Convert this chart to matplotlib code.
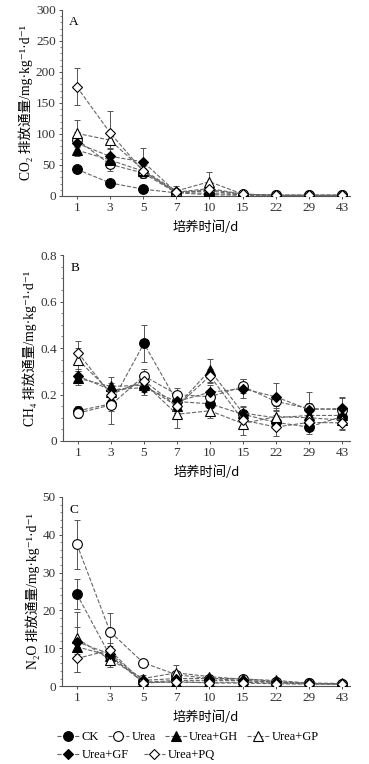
import matplotlib
matplotlib.use("Agg")
import matplotlib.pyplot as plt
import numpy as np
from matplotlib.ticker import MultipleLocator

days = ["1", "3", "5", "7", "10", "15", "22", "29", "43"]
treatments = ["CK", "Urea", "Urea+GH", "Urea+GP", "Urea+GF", "Urea+PQ"]

# Panel A: CO2 flux
co2 = {
    "CK":      [43, 21, 11, 5, 2, 1, 1, 1, 1],
    "Urea":    [91, 51, 37, 5, 10, 3, 1, 1, 1],
    "Urea+GH": [74, 58, 40, 6, 8, 2, 1, 1, 1],
    "Urea+GP": [101, 90, 42, 8, 23, 3, 1, 1, 1],
    "Urea+GF": [85, 64, 55, 6, 4, 2, 1, 1, 1],
    "Urea+PQ": [176, 102, 40, 6, 12, 3, 1, 1, 1],
}
co2_err = {
    "CK":      [5, 5, 4, 2, 2, 1, 0, 0, 0],
    "Urea":    [12, 10, 8, 3, 5, 1, 0, 0, 0],
    "Urea+GH": [10, 10, 8, 3, 3, 1, 0, 0, 0],
    "Urea+GF": [12, 12, 22, 3, 3, 1, 0, 0, 0],
    "Urea+GP": [21, 12, 10, 8, 16, 3, 0, 0, 0],
    "Urea+PQ": [30, 35, 10, 5, 8, 2, 0, 0, 0],
}

# Panel B: CH4 flux
ch4 = {
    "CK":      [0.13, 0.16, 0.42, 0.17, 0.16, 0.115, 0.08, 0.06, 0.105],
    "Urea":    [0.12, 0.155, 0.28, 0.20, 0.19, 0.235, 0.17, 0.14, 0.135],
    "Urea+GH": [0.27, 0.235, 0.24, 0.15, 0.305, 0.12, 0.10, 0.11, 0.11],
    "Urea+GP": [0.35, 0.21, 0.25, 0.115, 0.13, 0.075, 0.105, 0.10, 0.09],
    "Urea+GF": [0.28, 0.22, 0.23, 0.17, 0.21, 0.225, 0.19, 0.135, 0.14],
    "Urea+PQ": [0.38, 0.20, 0.26, 0.15, 0.28, 0.09, 0.06, 0.08, 0.078],
}
ch4_err = {
    "CK":      [0.02, 0.03, 0.08, 0.03, 0.03, 0.03, 0.03, 0.03, 0.03],
    "Urea":    [0.02, 0.08, 0.03, 0.03, 0.03, 0.03, 0.03, 0.07, 0.05],
    "Urea+GH": [0.03, 0.04, 0.03, 0.03, 0.05, 0.03, 0.05, 0.03, 0.03],
    "Urea+GP": [0.05, 0.03, 0.03, 0.06, 0.03, 0.05, 0.03, 0.03, 0.04],
    "Urea+GF": [0.03, 0.03, 0.03, 0.03, 0.03, 0.04, 0.06, 0.03, 0.05],
    "Urea+PQ": [0.05, 0.03, 0.03, 0.03, 0.03, 0.03, 0.04, 0.03, 0.03],
}

# Panel C: N2O flux
n2o = {
    "CK":      [24.3, 8.0, 1.0, 1.5, 1.5, 1.5, 1.0, 0.7, 0.6],
    "Urea":    [37.5, 14.4, 6.2, 3.0, 2.0, 2.0, 1.2, 0.7, 0.6],
    "Urea+GH": [10.4, 8.0, 1.0, 1.0, 1.0, 1.0, 0.8, 0.6, 0.5],
    "Urea+GP": [12.6, 7.0, 2.0, 3.5, 2.5, 1.8, 1.5, 0.8, 0.7],
    "Urea+GF": [11.7, 8.5, 1.5, 2.0, 2.0, 1.5, 1.0, 0.7, 0.6],
    "Urea+PQ": [7.3, 9.5, 0.8, 1.2, 0.8, 0.8, 0.6, 0.5, 0.5],
}
n2o_err = {
    "CK":      [4.0, 1.5, 0.5, 0.5, 0.5, 0.4, 0.3, 0.2, 0.2],
    "Urea":    [6.5, 5.0, 1.0, 1.0, 0.5, 0.5, 0.4, 0.2, 0.2],
    "Urea+GH": [2.0, 2.0, 0.5, 0.5, 0.4, 0.4, 0.3, 0.2, 0.2],
    "Urea+GP": [3.0, 2.0, 0.8, 2.0, 0.5, 0.5, 0.5, 0.2, 0.2],
    "Urea+GF": [8.0, 2.0, 0.5, 0.5, 0.4, 0.4, 0.3, 0.2, 0.2],
    "Urea+PQ": [3.5, 2.0, 0.5, 0.5, 0.4, 0.4, 0.3, 0.2, 0.2],
}

ylabels = ["CO₂ 排放通量/mg·kg⁻¹·d⁻¹", "CH₄ 排放通量/mg·kg⁻¹·d⁻¹",
           "N₂O 排放通量/mg·kg⁻¹·d⁻¹"]
xlabel = "培养时间/d"

styles = {
    "CK":      dict(marker="o", mfc="black", ms=7),
    "Urea":    dict(marker="o", mfc="white", ms=7),
    "Urea+GH": dict(marker="^", mfc="black", ms=6.5),
    "Urea+GP": dict(marker="^", mfc="white", ms=6.5),
    "Urea+GF": dict(marker="D", mfc="black", ms=5.2),
    "Urea+PQ": dict(marker="D", mfc="white", ms=5.2),
}

serif = ["Liberation Serif", "DejaVu Serif", "Noto Sans CJK SC"]
cjk = ["Noto Sans CJK SC", "DejaVu Sans"]

fig = plt.figure(figsize=(3.69, 7.64), dpi=100)
x = np.arange(len(days))

panels = [
    (co2, co2_err, [0.168, 0.7435, 0.78, 0.2435], (0, 300), [0, 50, 100, 150, 200, 250, 300],
     ["0", "50", "100", "150", "200", "250", "300"], 10, "A"),
    (ch4, ch4_err, [0.171, 0.4228, 0.777, 0.2432], (0, 0.8), [0, 0.2, 0.4, 0.6, 0.8],
     ["0", "0.2", "0.4", "0.6", "0.8"], 0.05, "B"),
    (n2o, n2o_err, [0.168, 0.102, 0.78, 0.2475], (0, 50), [0, 10, 20, 30, 40, 50],
     ["0", "10", "20", "30", "40", "50"], 2, "C"),
]

handles = {}
for i, (data, err, rect, ylim, yt, ytl, minor, letter) in enumerate(panels):
    ax = fig.add_axes(rect)
    for t in treatments:
        st = styles[t]
        ax.errorbar(x, data[t], yerr=err[t], fmt="none", ecolor="#555555",
                    elinewidth=0.7, capsize=2, capthick=0.7, zorder=2)
        ln, = ax.plot(x, data[t], linestyle="--", color="#666666", lw=0.8,
                      marker=st["marker"], mfc=st["mfc"], mec="black",
                      mew=0.8, ms=st["ms"], zorder=3, label=t)
        handles[t] = ln
    ax.set_xlim(-0.45, 8.24)
    ax.set_ylim(*ylim)
    ax.set_xticks(x)
    ax.set_xticklabels(days, family=serif, fontsize=9.5)
    ax.set_yticks(yt)
    ax.set_yticklabels(ytl, family=serif, fontsize=9.5)
    ax.yaxis.set_minor_locator(MultipleLocator(minor))
    ax.tick_params(axis="both", which="major", direction="out", length=2.5,
                   width=0.6, colors="#333333", pad=2)
    ax.tick_params(axis="y", which="minor", direction="out", length=1.5,
                   width=0.5, colors="#555555")
    ax.tick_params(axis="x", which="minor", bottom=False)
    for s in ["top", "right"]:
        ax.spines[s].set_visible(False)
    for s in ["left", "bottom"]:
        ax.spines[s].set_color("#555555")
        ax.spines[s].set_linewidth(0.8)
        ax.spines[s].set_linestyle((0, (2, 0.6)))
    ax.text(0.025, 0.965, letter, transform=ax.transAxes, ha="left", va="top",
            family=serif, fontsize=9.5)
    ax.set_ylabel(ylabels[i], family=serif, fontsize=9.8, labelpad=2)
    ax.set_xlabel(xlabel, family=cjk, fontsize=9.5, labelpad=4.5)

leg_kw = dict(frameon=False, prop={"family": serif, "size": 9},
              handlelength=1.75, handletextpad=0.2, columnspacing=0.7,
              borderpad=0, borderaxespad=0, loc="center left")
row1 = ["CK", "Urea", "Urea+GH", "Urea+GP"]
row2 = ["Urea+GF", "Urea+PQ"]
leg1 = fig.legend([handles[t] for t in row1], row1, ncol=4,
                  bbox_to_anchor=(57 / 369, 1 - 737 / 764), **leg_kw)
leg2 = fig.legend([handles[t] for t in row2], row2, ncol=2,
                  bbox_to_anchor=(57 / 369, 1 - 755 / 764),
                  **{**leg_kw, "columnspacing": 1.2})

fig.savefig("out.png", dpi=100)
